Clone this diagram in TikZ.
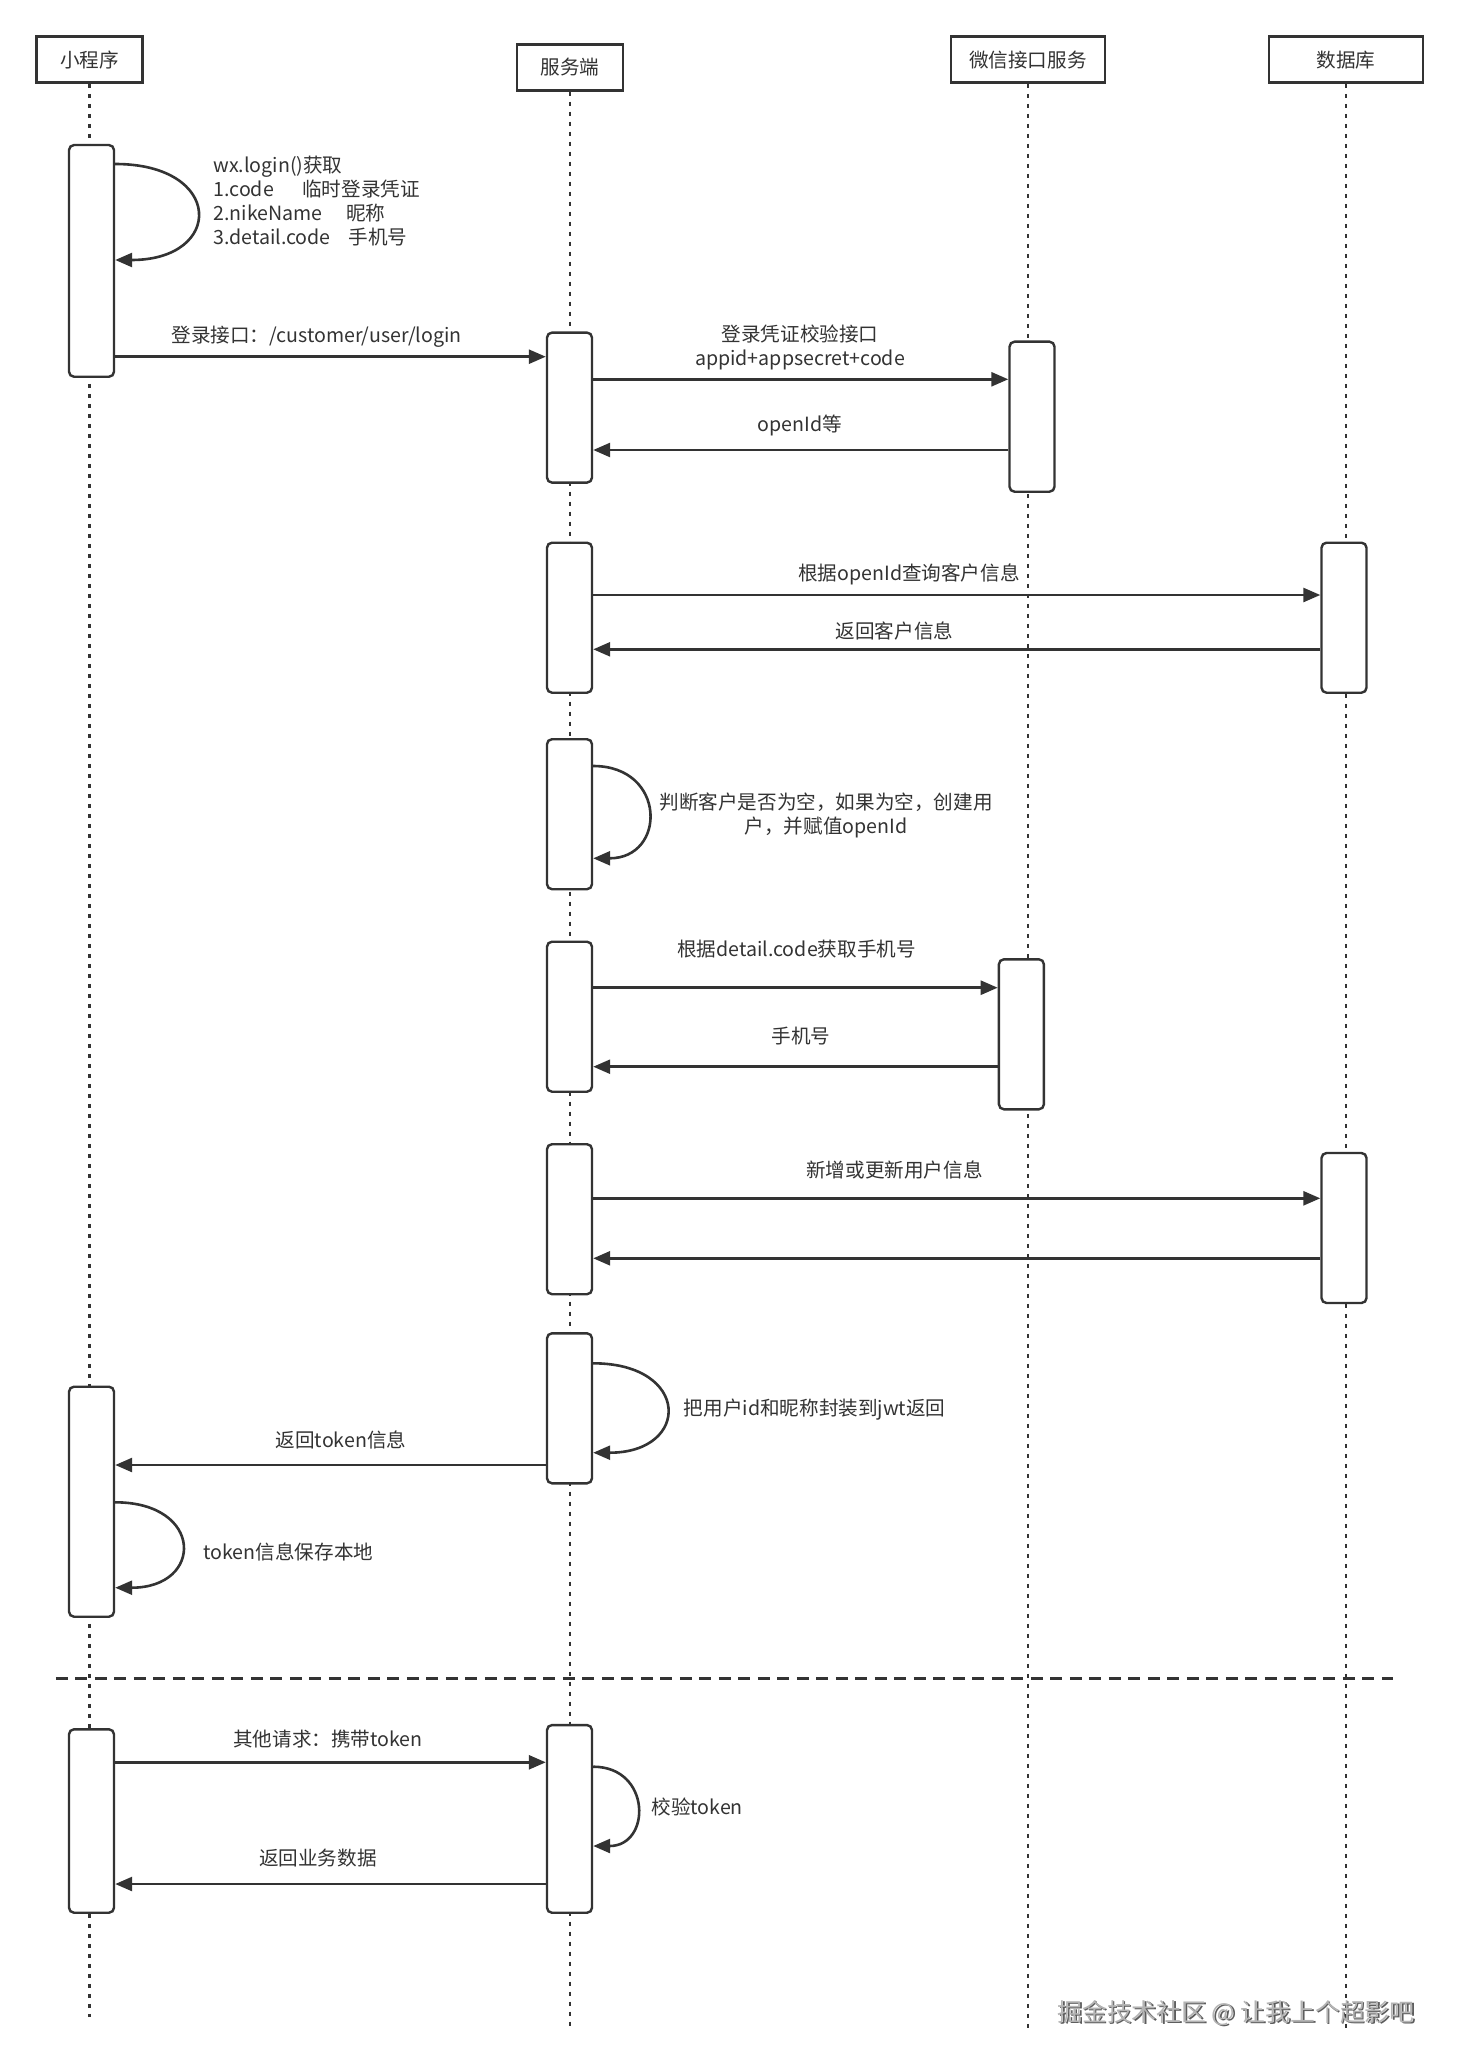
\documentclass[tikz,border=0pt]{standalone}
\usepackage{fontspec}
\setmainfont{Noto Sans CJK SC}
\usetikzlibrary{arrows.meta}

\definecolor{lineGray}{HTML}{333333}
\definecolor{markGray}{HTML}{B4B4B4}

\tikzset{
	headbox/.style={draw=lineGray, line width=1.2pt, fill=white, minimum height=23pt, inner sep=0pt, text=lineGray, font=\fontsize{9.8pt}{12pt}\selectfont},
	lifeline/.style={draw=lineGray, line width=1.1pt, dash pattern=on 2pt off 3pt},
	bar/.style={draw=lineGray, line width=1.2pt, fill=white, rounded corners=2.5pt, minimum width=22.5pt, minimum height=75pt, inner sep=0pt},
	msg/.style={draw=lineGray, line width=1.3pt, -{Triangle[length=8.5pt,width=7pt]}},
	lbl/.style={text=lineGray, inner sep=0pt, font=\fontsize{9.8pt}{12pt}\selectfont, align=center},
}

\begin{document}
\begin{tikzpicture}[x=0.5pt, y=-0.5pt] % whole sequence
		\newcommand{\lineEnd}{2030}
		
		\fill[white] (0,0) rectangle (1459,2070);		% background
		\useasboundingbox (0,0) rectangle (1459,2070);
		
		% heads
		\node[headbox, minimum width=53pt] (mp) at (89.4,59.7) {小程序};
		\node[headbox, minimum width=53pt] (srv) at (569.9,67.5) {服务端};
		\node[headbox, minimum width=77pt] (wx) at (1027.8,59.7) {微信接口服务};
		\node[headbox, minimum width=77pt] (db) at (1346,59.7) {数据库};
		
		% lifelines
		\draw[lifeline] (mp.south) -- (mp.south |- 0,2017);
		\draw[lifeline] (srv.south) -- (srv.south |- 0,\lineEnd);
		\draw[lifeline] (wx.south) -- (wx.south |- 0,\lineEnd);
		\draw[lifeline] (db.south) -- (db.south |- 0,\lineEnd);
		
		% separator
		\draw[lineGray, line width=1.25pt, dash pattern=on 6pt off 3.75pt] (55.8,1678.3) -- (1393,1678.3);
		
		% activation bars
		\node[bar, minimum height=115.85pt] (mp1) at (91.5,260.9) {};
		\node[bar] (srv1) at (569.5,407.6) {};
		\node[bar] (wx1) at (1032,416.7) {};
		\node[bar] (srv2) at (569.5,617.7) {};
		\node[bar] (db1) at (1344,617.7) {};
		\node[bar] (srv3) at (569.5,814.2) {};
		\node[bar] (srv4) at (569.5,1016.7) {};
		\node[bar] (wx2) at (1021.4,1034.3) {};
		\node[bar] (srv5) at (569.5,1219.2) {};
		\node[bar] (db2) at (1344,1228) {};
		\node[bar] (srv6) at (569.5,1408.3) {};
		\node[bar, minimum height=115pt] (mp2) at (91.5,1501.7) {};
		\node[bar, minimum height=91.7pt] (mp3) at (91.5,1821) {};
		\node[bar, minimum height=93.85pt] (srv7) at (569.5,1818.9) {};
		
		% login
		\draw[msg] (mp1.east |- 0,164) .. controls +(109,0) and +(109,0) .. (mp1.east |- 0,260);
		\node[lbl, align=left, anchor=west] (getTxt) at (213,201.5) {wx.login()获取\\1.code\hspace{1.45em}临时登录凭证\\2.nikeName\hspace{1.2em}昵称\\3.detail.code\hspace{0.9em}手机号};
		\draw[msg] (mp1.east |- 0,356.7) -- (srv1.west |- 0,356.7);
		\node[lbl] (loginTxt) at (316.5,336.7) {登录接口：/customer/user/login};
		
		% code check
		\draw[msg] (srv1.east |- 0,379.3) -- (wx1.west |- 0,379.3);
		\node[lbl] (checkTxt) at (800,347.2) {登录凭证校验接口\\appid+appsecret+code};
		\draw[msg] (wx1.west |- 0,450) -- (srv1.east |- 0,450);
		\node[lbl] (openTxt) at (800,425) {openId等};
		
		% customer query
		\draw[msg] (srv2.east |- 0,595) -- (db1.west |- 0,595);
		\node[lbl] (queryTxt) at (909,574) {根据openId查询客户信息};
		\draw[msg] (db1.west |- 0,649.3) -- (srv2.east |- 0,649.3);
		\node[lbl] (backTxt) at (894.5,631) {返回客户信息};
		
		% empty check
		\draw[msg] (srv3.east |- 0,766) .. controls +(73.5,0) and +(73.5,0) .. (srv3.east |- 0,858.3);
		\node[lbl] (emptyTxt) at (826,815.3) {判断客户是否为空，如果为空，创建用\\户，并赋值openId};
		
		% phone number
		\draw[msg] (srv4.east |- 0,987.7) -- (wx2.west |- 0,987.7);
		\node[lbl] (phoneTxt) at (796.6,949.3) {根据detail.code获取手机号};
		\draw[msg] (wx2.west |- 0,1066.7) -- (srv4.east |- 0,1066.7);
		\node[lbl] (numTxt) at (801,1036) {手机号};
		
		% save user
		\draw[msg] (srv5.east |- 0,1198.3) -- (db2.west |- 0,1198.3);
		\node[lbl] (saveTxt) at (894.5,1170) {新增或更新用户信息};
		\draw[msg] (db2.west |- 0,1258.3) -- (srv5.east |- 0,1258.3);
		
		% jwt
		\draw[msg] (srv6.east |- 0,1363.3) .. controls +(97.7,0) and +(97.7,0) .. (srv6.east |- 0,1452.7);
		\node[lbl, anchor=west] (jwtTxt) at (683.5,1410) {把用户id和昵称封装到jwt返回};
		\draw[msg] (srv6.west |- 0,1465) -- (mp2.east |- 0,1465);
		\node[lbl] (tokenTxt) at (341,1440) {返回token信息};
		\draw[msg] (mp2.east |- 0,1502.3) .. controls +(88.8,0) and +(88.8,0) .. (mp2.east |- 0,1587.7);
		\node[lbl, anchor=west] (keepTxt) at (203,1551.7) {token信息保存本地};
		
		% other requests
		\draw[msg] (mp3.east |- 0,1762.3) -- (srv7.west |- 0,1762.3);
		\node[lbl] (otherTxt) at (328,1739.3) {其他请求：携带token};
		\draw[msg] (srv7.east |- 0,1766.7) .. controls +(58.3,0) and +(58.3,0) .. (srv7.east |- 0,1846);
		\node[lbl, anchor=west] (verifyTxt) at (651,1806.7) {校验token};
		\draw[msg] (srv7.west |- 0,1884) -- (mp3.east |- 0,1884);
		\node[lbl] (dataTxt) at (317.8,1858.3) {返回业务数据};
		
		% watermark
		\node[inner sep=0pt, text=lineGray!80, font=\fontsize{12.4pt}{14pt}\selectfont] (markShadow) at (1237.5,2014.5) {掘金技术社区 @ 让我上个超影吧};
		\node[inner sep=0pt, text=markGray, font=\fontsize{12.4pt}{14pt}\selectfont] (mark) at (1236,2013) {掘金技术社区 @ 让我上个超影吧};
\end{tikzpicture}
\end{document}
